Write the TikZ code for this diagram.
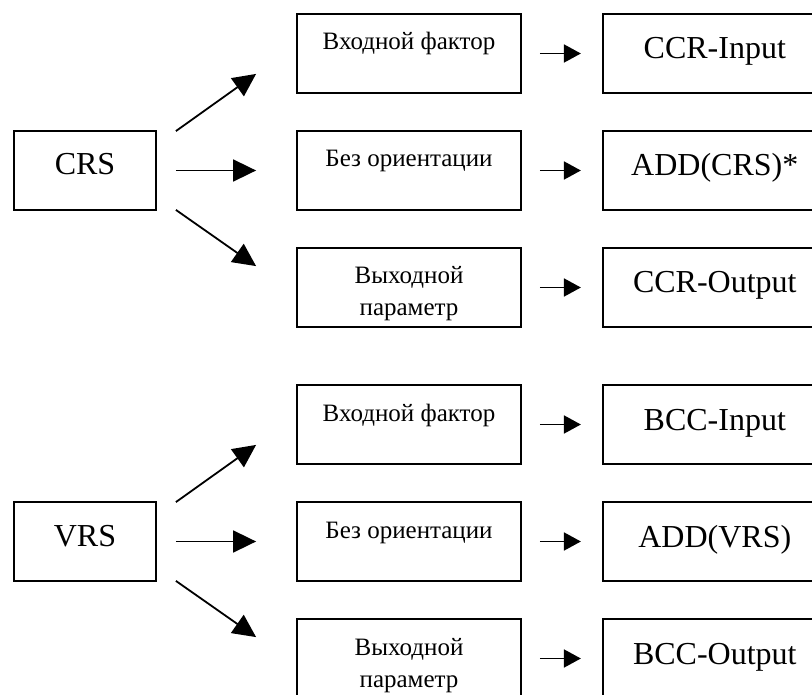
\documentclass[tikz,border=0pt]{standalone}
\usepackage{fontspec}
\setmainfont{Liberation Serif}
\usetikzlibrary{arrows.meta, positioning, calc}

\begin{document}
\begin{tikzpicture}[x=1pt, y=-1pt,
  box/.style={draw, line width=1.8pt, inner sep=0pt, minimum height=79pt},
  rts/.style={box, minimum width=142pt, text height=44pt, text depth=35pt,
    font=\fontsize{32}{38}\selectfont},
  orient/.style={box, minimum width=224pt, text height=36pt, text depth=43pt,
    align=center, font=\fontsize{25}{32}\selectfont},
  twoline/.style={text height=68pt, text depth=11pt},
  model/.style={box, minimum width=224pt, text height=45pt, text depth=34pt,
    font=\fontsize{32}{38}\selectfont},
  fan/.style={draw, line width=1.8pt, -{Triangle[length=23pt, width=22pt]}},
  pass/.style={draw, line width=1.8pt, -{Triangle[length=17pt, width=18pt]},
    shorten <=18pt, shorten >=21pt}
]
\useasboundingbox (0,0) rectangle (812,695);
\clip (0,0) rectangle (812,695);

% CRS
\node[rts] (crs) at (85,170.5) {CRS};
\node[orient] (crsin) at (409,53.5) {Входной фактор};
\node[orient] (crsneo) at (409,170.5) {Без ориентации};
\node[orient, twoline] (crsout) at (409,287.5) {Выходной\\параметр};
\node[model, right=80pt of crsin] (ccrin) {CCR-Input};
\node[model, right=80pt of crsneo] (addcrs) {ADD(CRS)*};
\node[model, right=80pt of crsout] (ccrout) {CCR-Output};

\draw[fan] ($(crs.north east)+(19,1)$) -- ($(crsin.south west)+(-40,-20)$);
\draw[fan, shorten <=19pt, shorten >=40pt] (crs.east) -- (crsneo.west);
\draw[fan] ($(crs.south east)+(19,-1)$) -- ($(crsout.north west)+(-40,19)$);
\draw[pass] (crsin.east) -- (ccrin.west);
\draw[pass] (crsneo.east) -- (addcrs.west);
\draw[pass] (crsout.east) -- (ccrout.west);

% VRS
\node[rts] (vrs) at (85,541.5) {VRS};
\node[orient] (vrsin) at (409,424.5) {Входной фактор};
\node[orient] (vrsneo) at (409,541.5) {Без ориентации};
\node[orient, twoline] (vrsout) at (409,658.5) {Выходной\\параметр};
\node[model, right=80pt of vrsin] (bccin) {BCC-Input};
\node[model, right=80pt of vrsneo] (addvrs) {ADD(VRS)};
\node[model, right=80pt of vrsout] (bccout) {BCC-Output};

\draw[fan] ($(vrs.north east)+(19,1)$) -- ($(vrsin.south west)+(-40,-20)$);
\draw[fan, shorten <=19pt, shorten >=40pt] (vrs.east) -- (vrsneo.west);
\draw[fan] ($(vrs.south east)+(19,-1)$) -- ($(vrsout.north west)+(-40,19)$);
\draw[pass] (vrsin.east) -- (bccin.west);
\draw[pass] (vrsneo.east) -- (addvrs.west);
\draw[pass] (vrsout.east) -- (bccout.west);
\end{tikzpicture}
\end{document}
